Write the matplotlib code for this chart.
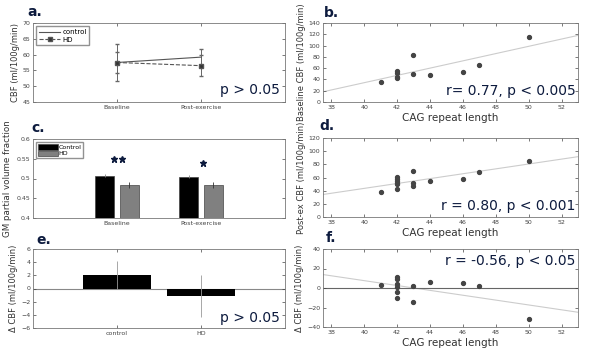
import matplotlib
matplotlib.use('Agg')
import matplotlib.pyplot as plt
from matplotlib.lines import Line2D
import numpy as np

# panel a: CBF at baseline / post-exercise
sessions = ['Baseline', 'Post-exercise']
cbf_control = [57.5, 59.2]
cbf_control_err = [5.9, 2.5]
cbf_hd = [57.5, 56.5]
cbf_hd_err = [3.4, 3.3]

# panel c: GM partial volume fraction
gm_control = [0.507, 0.505]
gm_control_err = [0.004, 0.003]
gm_hd = [0.484, 0.483]
gm_hd_err = [0.007, 0.008]

# panel e: change in CBF
groups = ['control', 'HD']
dcbf = [2.0, -1.1]
dcbf_err = [2.15, 3.2]

# panels b, d, f: CBF vs CAG repeat length
cag_b = [41, 42, 42, 42, 42, 43, 43, 44, 46, 47, 50]
cbf_base = [36, 55, 52, 45, 42, 84, 50, 48, 53, 66, 116]
cag_d = [41, 42, 42, 42, 42, 42, 42, 43, 43, 43, 44, 46, 47, 50]
cbf_post = [38, 61, 58, 55, 52, 50, 43, 70, 52, 47, 54, 57, 68, 85]
cag_f = [41, 42, 42, 42, 42, 42, 42, 43, 43, 44, 46, 47, 50]
dcbf_cag = [3, 11, 9, 4, 1, -4, -10, 2, -14, 6.5, 5, 2, -32]

navy = '#0d1b3e'
tick_col = '#444444'

fig = plt.figure(figsize=(6, 3.53), dpi=100)
fig.patch.set_facecolor('white')


def matlab_style(ax):
    ax.tick_params(direction='in', top=True, right=True, labelsize=4.5,
                   colors=tick_col, length=2.5, width=0.5, pad=2)
    for s in ax.spines.values():
        s.set_color('#777777')
        s.set_linewidth(0.6)


def px_axes(x0, y0, x1, y1):
    return fig.add_axes([x0 / 600, 1 - y1 / 353, (x1 - x0) / 600, (y1 - y0) / 353])


# ---- a ----
ax = px_axes(33, 23, 285, 102)
pos = np.arange(1, len(sessions) + 1)
ax.errorbar(pos, cbf_control, yerr=cbf_control_err, color='#555555', lw=0.8,
            ecolor='#666666', elinewidth=0.7, capsize=1.5)
ax.errorbar(pos, cbf_hd, yerr=cbf_hd_err, color='#555555', lw=0.8, ls='--',
            marker='s', markersize=2.5, markerfacecolor='#333333',
            ecolor='#666666', elinewidth=0.7, capsize=1.5)
ax.set_xlim(0, 3)
ax.set_ylim(45, 70)
ax.set_yticks(np.arange(45, 71, 5))
ax.set_xticks(pos)
ax.set_xticklabels(sessions)
ax.set_ylabel('CBF (ml/100g/min)', fontsize=6, color='#333333', labelpad=2)
matlab_style(ax)
handles = [Line2D([], [], color='#555555', lw=0.8),
           Line2D([], [], color='#555555', lw=0.8, ls='--', marker='s',
                  markersize=2.5, markerfacecolor='#333333')]
ax.legend(handles, ['control', 'HD'], loc='upper left', fontsize=5, frameon=True,
          fancybox=False, edgecolor='#777777', handlelength=3, borderpad=0.4,
          labelspacing=0.2, handletextpad=0.3)
ax.text(0.98, 0.06, 'p > 0.05', transform=ax.transAxes, ha='right', va='bottom',
        fontsize=10, color=navy)

# ---- c ----
ax = px_axes(33, 139, 285, 218)
w = 0.23
ax.bar(pos - 0.145, gm_control, w, yerr=gm_control_err, color='black',
       edgecolor='#444444', lw=0.5, ecolor='#888888',
       error_kw=dict(elinewidth=0.6), label='Control')
ax.bar(pos + 0.145, gm_hd, w, yerr=gm_hd_err, color='#808080',
       edgecolor='#444444', lw=0.5, ecolor='#333333',
       error_kw=dict(elinewidth=0.6), label='HD')
ax.set_xlim(0, 3)
ax.set_ylim(0.4, 0.6)
ax.set_yticks([0.4, 0.45, 0.5, 0.55, 0.6])
ax.set_yticklabels(['0.4', '0.45', '0.5', '0.55', '0.6'])
ax.set_xticks(pos)
ax.set_xticklabels(sessions)
ax.set_ylabel('GM partial volume fraction', fontsize=6.3, color='#333333', labelpad=3)
matlab_style(ax)
ax.tick_params(axis='x', length=0)
ax.legend(loc='upper left', fontsize=4.5, frameon=True, fancybox=False,
          edgecolor='#777777', handlelength=3.2, handleheight=1.0,
          borderpad=0.3, labelspacing=0.1, handletextpad=0.1)
ax.plot([0.97, 1.06], [0.55, 0.55], '*', color=navy, markersize=4.5)
ax.plot([2.02], [0.538], '*', color=navy, markersize=4.5)

# ---- e ----
ax = px_axes(33, 249, 285, 328)
gpos = np.arange(1, len(groups) + 1)
ax.axhline(0, color='#888888', lw=0.8, zorder=1)
ax.bar(gpos, dcbf, 0.81, color='black', zorder=2)
ax.errorbar(gpos, dcbf, yerr=dcbf_err, fmt='none', ecolor='#999999',
            elinewidth=0.6, capsize=0, zorder=3)
ax.set_xlim(0, 3)
ax.set_ylim(-6, 6)
ax.set_yticks(np.arange(-6, 7, 2))
ax.set_xticks(gpos)
ax.set_xticklabels(groups)
ax.set_ylabel('\u0394 CBF (ml/100g/min)', fontsize=6, color='#333333', labelpad=2)
matlab_style(ax)
ax.text(0.98, 0.04, 'p > 0.05', transform=ax.transAxes, ha='right', va='bottom',
        fontsize=10, color=navy)


# ---- b, d, f ----
def scatter_panel(box, x, y, ylim, yticks, ylabel, note, note_y, zero=False):
    ax = px_axes(*box)
    xs = np.array([37.5, 53])
    k, b = np.polyfit(x, y, 1)
    ax.plot(xs, k * xs + b, color='#cccccc', lw=0.8, zorder=1)
    if zero:
        ax.axhline(0, color='#666666', lw=0.8, zorder=1)
    ax.plot(x, y, 'o', color='#444444', markersize=2.8, zorder=3)
    ax.set_xlim(37.5, 53)
    ax.set_ylim(*ylim)
    ax.set_xticks(np.arange(38, 53, 2))
    ax.set_yticks(yticks)
    ax.set_ylabel(ylabel, fontsize=6, color='#333333', labelpad=2)
    ax.set_xlabel('CAG repeat length', fontsize=7.5, color='#333333', labelpad=2)
    matlab_style(ax)
    ax.text(0.99, note_y, note, transform=ax.transAxes, ha='right', va='center',
            fontsize=10, color=navy)
    return ax


scatter_panel((323, 23, 578, 102), cag_b, cbf_base, (0, 140), np.arange(0, 141, 20),
              'Baseline CBF (ml/100g/min)', 'r= 0.77, p < 0.005', 0.14)
scatter_panel((323, 138, 578, 217), cag_d, cbf_post, (0, 120), np.arange(0, 121, 20),
              'Post-ex CBF (ml/100g/min)', 'r = 0.80, p < 0.001', 0.14)
scatter_panel((323, 249, 578, 327), cag_f, dcbf_cag, (-40, 40), np.arange(-40, 41, 20),
              '\u0394 CBF (ml/100g/min)', 'r = -0.56, p < 0.05', 0.85, zero=True)

# panel letters
for lbl, x, y in [('a.', 27, 12), ('b.', 324, 13), ('c.', 31, 128),
                  ('d.', 319, 126), ('e.', 36, 240), ('f.', 326, 238)]:
    fig.text(x / 600, 1 - y / 353, lbl, fontsize=10, fontweight='bold',
             color=navy, ha='left', va='center')

fig.savefig('out.png', dpi=100, facecolor='white')
